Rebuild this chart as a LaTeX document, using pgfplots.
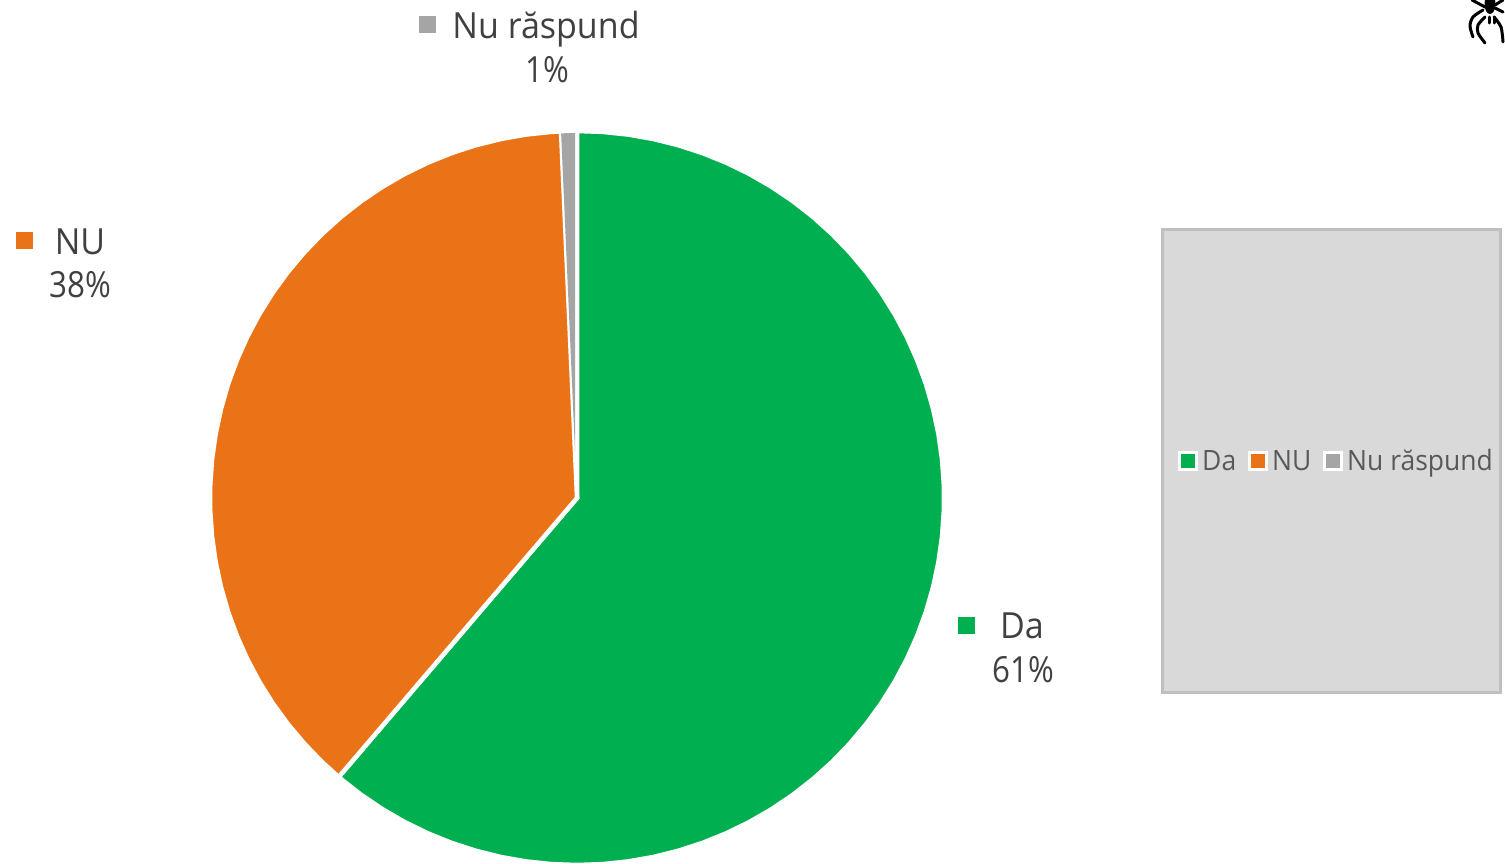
\documentclass[border=0pt]{standalone}
\usepackage{fontspec}
\setmainfont{Open Sans}
\newfontfamily\lblfont[FakeStretch=0.945]{Open Sans}
\newfontfamily\pctfont[FakeStretch=0.87]{Open Sans}
\usepackage{pgfplots}
\pgfplotsset{compat=1.18}
\definecolor{dagreen}{HTML}{00B050}
\definecolor{nuorange}{HTML}{EA7317}
\definecolor{nrgrey}{HTML}{A5A5A5}
\definecolor{lbltext}{HTML}{404040}
\definecolor{legtext}{HTML}{595959}
\pgfplotsset{canvas/.style={
  scale only axis, width=1505pt, height=863pt,
  hide axis, at={(0,0)}, anchor=south west},
  key/.style={only marks, mark=square*, mark size=#1},
  col/.style={mark options={fill=#1, draw=#1, line width=0pt}}}
\begin{document}
\begin{tikzpicture}
\useasboundingbox (0,0) rectangle (1505pt,863pt);
% pie: units are pixels, centre of the pie at the origin
\begin{axis}[canvas, xmin=-577, xmax=928, ymin=-365, ymax=498]
\addplot[fill=dagreen, draw=white, line width=4.5pt, line join=miter, data cs=polar] coordinates {
 (0,0) (90,367) (86,367) (82,367) (78,367) (74,367) (70,367) (66,367) (62,367) (58,367) (54,367)
 (50,367) (46,367) (42,367) (38,367) (34,367) (30,367) (26,367) (22,367) (18,367) (14,367)
 (10,367) (6,367) (2,367) (-2,367) (-6,367) (-10,367) (-14,367) (-18,367) (-22,367) (-26,367)
 (-30,367) (-34,367) (-38,367) (-42,367) (-46,367) (-50,367) (-54,367) (-58,367) (-62,367) (-66,367)
 (-70,367) (-74,367) (-78,367) (-82,367) (-86,367) (-90,367) (-94,367) (-98,367) (-102,367) (-106,367)
 (-110,367) (-114,367) (-118,367) (-122,367) (-126,367) (-130,367) (-130.5,367)} -- cycle;
\addplot[fill=nuorange, draw=white, line width=4.5pt, line join=miter, data cs=polar] coordinates {
 (0,0) (229.5,367) (226,367) (222,367) (218,367) (214,367) (210,367) (206,367) (202,367) (198,367)
 (194,367) (190,367) (186,367) (182,367) (178,367) (174,367) (170,367) (166,367) (162,367) (158,367)
 (154,367) (150,367) (146,367) (142,367) (138,367) (134,367) (130,367) (126,367) (122,367) (118,367)
 (114,367) (110,367) (106,367) (102,367) (98,367) (94,367) (92.5,367)} -- cycle;
% the grey slice sits on top, its lower part hidden under the white lines
\addplot[fill=nrgrey, draw=none, data cs=polar] coordinates {
 (92.5,365) (91.4,365) (90.31,365) (90.6,190) (91.15,100) (92.5,46)} -- cycle;
\end{axis}
% everything else: units are reference pixels, y downwards
\begin{axis}[canvas, xmin=0, xmax=1505, ymin=0, ymax=863, y dir=reverse, clip=false]
% data label keys
\addplot[key=8pt, col=dagreen] coordinates {(966,625)};
\addplot[key=8pt, col=nuorange] coordinates {(24,240)};
\addplot[key=8pt, col=nrgrey] coordinates {(427,24)};
% legend box
\addplot[fill=black!15, draw=black!25, line width=3pt] coordinates {(1162,229) (1500,229) (1500,692) (1162,692)} -- cycle;
\addplot[key=9.5pt, col=white] coordinates {(1187.5,461) (1257.5,461) (1333,461)};
\addplot[key=6.5pt, col=dagreen] coordinates {(1187.5,461)};
\addplot[key=6.5pt, col=nuorange] coordinates {(1257.5,461)};
\addplot[key=6.5pt, col=nrgrey] coordinates {(1333,461)};
% texts
\begin{scope}[every node/.style={text=lbltext, inner sep=0pt, anchor=base}]
\node[font=\lblfont\fontsize{36}{40}\selectfont] at (axis cs:546,38) {Nu răspund};
\node[font=\pctfont\fontsize{36}{40}\selectfont] at (axis cs:547,82) {1\%};
\node[font=\lblfont\fontsize{36}{40}\selectfont] at (axis cs:80,254) {NU};
\node[font=\pctfont\fontsize{36}{40}\selectfont] at (axis cs:80,297) {38\%};
\node[font=\lblfont\fontsize{36}{40}\selectfont] at (axis cs:1022,638) {Da};
\node[font=\pctfont\fontsize{36}{40}\selectfont] at (axis cs:1023,682) {61\%};
\end{scope}
\begin{scope}[every node/.style={text=legtext, font=\lblfont\fontsize{28}{32}\selectfont, inner sep=0pt, anchor=base west}]
\node at (axis cs:1202,470) {Da};
\node at (axis cs:1272,470) {NU};
\node at (axis cs:1347,470) {Nu răspund};
\end{scope}
% spider in the corner
\fill[black] (axis cs:1490,4) ellipse [x radius=5.5pt, y radius=10pt];
\begin{scope}[black, line width=3pt, line cap=round]
\draw plot[smooth] coordinates {(axis cs:1483,10) (axis cs:1473,17) (axis cs:1470,26) (axis cs:1473,37)};
\draw plot[smooth] coordinates {(axis cs:1485,17) (axis cs:1478,25) (axis cs:1478,33) (axis cs:1485,43)};
\draw plot[smooth] coordinates {(axis cs:1494,17) (axis cs:1501,27) (axis cs:1503,42)};
\draw (axis cs:1472,0) -- (axis cs:1485,7);
\draw (axis cs:1503,0) -- (axis cs:1495,5);
\draw (axis cs:1503,12) -- (axis cs:1495,8);
\draw (axis cs:1489,17) -- (axis cs:1489,23);
\draw (axis cs:1494,17) -- (axis cs:1494,23);
\end{scope}
\end{axis}
\end{tikzpicture}
\end{document}
